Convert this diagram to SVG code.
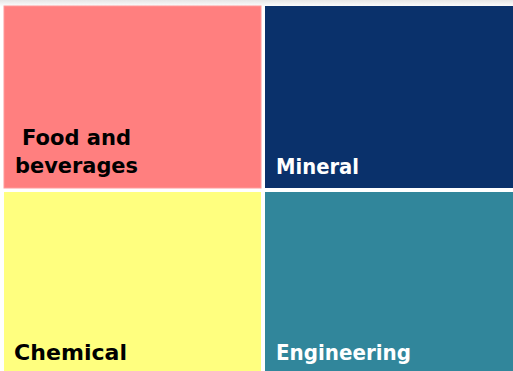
<svg xmlns="http://www.w3.org/2000/svg" width="513" height="371" viewBox="0 0 513 371">
<defs>
<linearGradient id="sh" x1="0" y1="0" x2="0" y2="1">
<stop offset="0" stop-color="#e6e6e6"/>
<stop offset="1" stop-color="#ffffff"/>
</linearGradient>
</defs>
<style>
.lbl{font-family:"DejaVu Sans","Liberation Sans",sans-serif;font-weight:bold;font-size:21px}
.dark{fill:#000000}
.light{fill:#ffffff}
</style>
<rect x="0" y="0" width="513" height="371" fill="#ffffff"/>
<rect x="0" y="0" width="513" height="7" fill="url(#sh)"/>
<g id="food">
<rect x="4" y="6" width="257" height="182" fill="#ff7f7f" stroke="#ff9a9a" stroke-width="1"/>
<text class="lbl dark" x="22" y="145" textLength="109" lengthAdjust="spacingAndGlyphs">Food and</text>
<text class="lbl dark" x="15" y="173" textLength="123" lengthAdjust="spacingAndGlyphs">beverages</text>
</g>
<g id="mineral">
<rect x="265" y="6" width="248" height="182" fill="#0a316b"/>
<text class="lbl light" x="276" y="174" textLength="83" lengthAdjust="spacingAndGlyphs">Mineral</text>
</g>
<g id="chemical">
<rect x="4" y="192" width="257" height="179" fill="#ffff7f"/>
<text class="lbl dark" x="14" y="360" textLength="113" lengthAdjust="spacingAndGlyphs">Chemical</text>
</g>
<g id="engineering">
<rect x="265" y="192" width="248" height="179" fill="#31869b"/>
<text class="lbl light" x="276" y="360" textLength="135" lengthAdjust="spacingAndGlyphs">Engineering</text>
</g>
<g id="connectors"></g>
</svg>
